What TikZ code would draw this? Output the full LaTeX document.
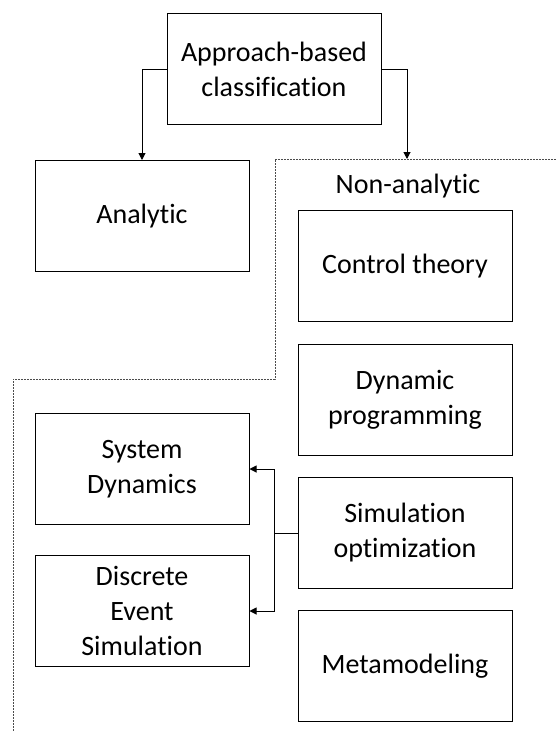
\documentclass[tikz,border=0pt]{standalone}
\usepackage{fontspec}
\setmainfont[Ligatures={CommonOff}]{Carlito}
\usetikzlibrary{arrows.meta}
\begin{document}
\begin{tikzpicture}[x=1pt,y=1pt,
  txt/.style={font=\fontsize{28}{35}\selectfont},
  box/.style={txt,draw=black,line width=1pt,rectangle,minimum width=214pt,minimum height=111pt,align=center,inner sep=0pt},
  conn/.style={line width=1pt,-{Triangle[length=7pt,width=7pt]}},
  region/.style={draw=black!70,line width=0.8pt,dash pattern=on 2pt off 1pt}]
\useasboundingbox (0,0) rectangle (556,-731);
\node[box] (top) at (274,-69) {Approach-based\\classification};
\node[box] (an) at (142,-216) {Analytic};
\node[box] (ct) at (405,-266) {Control theory};
\node[box] (dp) at (405,-400) {Dynamic\\programming};
\node[box] (so) at (405,-533) {Simulation\\optimization};
\node[box] (mm) at (405,-666) {Metamodeling};
\node[box] (sd) at (142,-469) {System\\Dynamics};
\node[box] (des) at (142,-611) {Discrete\\Event\\Simulation};
\node[txt,anchor=base,inner sep=0pt] (nal) at (408,-193) {Non-analytic};
\coordinate (r1) at (556,-159);
\coordinate (r2) at (275,-159);
\coordinate (r3) at (275,-379);
\coordinate (r4) at (13,-379);
\coordinate (r5) at (13,-731);
\draw[region] (r1) -- (r2) -- (r3) -- (r4) -- (r5);
\coordinate (nan) at (407,-159);
\draw[conn] (top.west) -| (an.north);
\draw[conn] (top.east) -| (nan);
\coordinate (j) at (274,-533);
\draw[line width=1pt] (so.west) -- (j);
\draw[conn] (j) |- (sd.east);
\draw[conn] (j) |- (des.east);
\end{tikzpicture}
\end{document}
